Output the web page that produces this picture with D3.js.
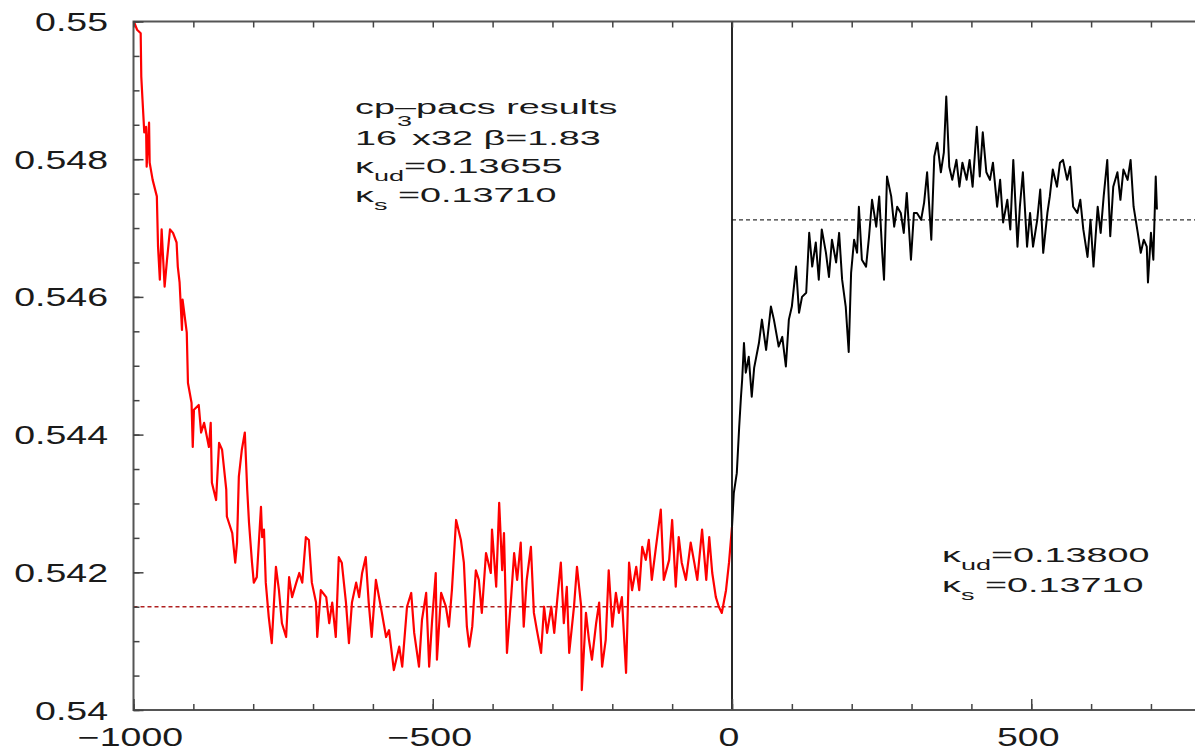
<!DOCTYPE html>
<head>
  <title>cp-pacs run history</title>
  <style>
    body {margin: 0; background: #fff;}
    svg text {font-family: "Liberation Sans", Arial, Helvetica, sans-serif; fill: #1a1a1a;}
    .axis path {display: none;}
    .axis line {stroke: #444; stroke-width: 1.5;}
  </style>
  <meta charset="utf-8">
</head>
<body>
  <svg width="1195" height="747"></svg>
  <script src="https://d3js.org/d3.v7.min.js"></script>
  <script>
    // trajectory (x) vs plaquette-like observable (y)
    var redRun = [
      [-1000,0.55000],[-999,0.54999],[-994,0.54988],[-988,0.54983],[-987,0.54920],[-985,0.54887],[-982,0.54839],[-979,0.54847],
      [-978,0.54789],[-974,0.54853],[-973,0.54795],[-968,0.54770],[-961,0.54746],[-959,0.54673],[-956,0.54625],[-953,0.54698],
      [-951,0.54664],[-948,0.54615],[-944,0.54654],[-939,0.54698],[-934,0.54693],[-928,0.54679],[-926,0.54644],[-923,0.54621],
      [-919,0.54552],[-918,0.54596],[-911,0.54548],[-909,0.54475],[-903,0.54446],[-901,0.54382],[-899,0.54436],[-891,0.54443],
      [-887,0.54403],[-882,0.54417],[-874,0.54382],[-871,0.54417],[-869,0.54330],[-862,0.54305],[-857,0.54388],[-852,0.54378],
      [-845,0.54320],[-844,0.54281],[-835,0.54257],[-830,0.54214],[-827,0.54243],[-824,0.54339],[-819,0.54378],[-814,0.54403],
      [-810,0.54320],[-807,0.54272],[-802,0.54214],[-799,0.54185],[-794,0.54193],[-787,0.54295],[-785,0.54251],[-782,0.54262],
      [-779,0.54185],[-774,0.54135],[-769,0.54097],[-762,0.54208],[-757,0.54174],[-752,0.54126],[-745,0.54106],[-740,0.54193],
      [-735,0.54164],[-728,0.54185],[-723,0.54199],[-718,0.54185],[-712,0.54251],[-707,0.54247],[-702,0.54185],[-695,0.54156],
      [-693,0.54106],[-687,0.54174],[-678,0.54164],[-673,0.54126],[-668,0.54156],[-662,0.54106],[-657,0.54222],[-652,0.54214],
      [-645,0.54156],[-640,0.54097],[-635,0.54156],[-628,0.54185],[-623,0.54164],[-618,0.54199],[-612,0.54222],[-607,0.54156],
      [-602,0.54106],[-595,0.54189],[-585,0.54141],[-578,0.54106],[-573,0.54116],[-565,0.54058],[-556,0.54092],[-551,0.54063],
      [-543,0.54150],[-536,0.54170],[-531,0.54112],[-523,0.54063],[-518,0.54131],[-511,0.54170],[-506,0.54063],[-501,0.54131],
      [-495,0.54199],[-493,0.54073],[-486,0.54170],[-478,0.54150],[-473,0.54121],[-468,0.54174],[-461,0.54276],[-453,0.54247],
      [-448,0.54214],[-443,0.54121],[-439,0.54092],[-434,0.54121],[-428,0.54203],[-423,0.54189],[-418,0.54141],[-411,0.54228],
      [-403,0.54199],[-401,0.54262],[-394,0.54179],[-389,0.54301],[-384,0.54203],[-381,0.54257],[-376,0.54083],[-369,0.54164],
      [-364,0.54228],[-359,0.54189],[-353,0.54243],[-348,0.54121],[-343,0.54189],[-336,0.54237],[-331,0.54141],[-326,0.54116],
      [-319,0.54083],[-314,0.54150],[-309,0.54112],[-302,0.54150],[-297,0.54112],[-292,0.54160],[-286,0.54214],[-281,0.54126],
      [-276,0.54179],[-272,0.54083],[-264,0.54150],[-259,0.54208],[-252,0.54150],[-251,0.54029],[-244,0.54141],[-239,0.54102],
      [-234,0.54073],[-227,0.54126],[-222,0.54156],[-217,0.54063],[-211,0.54102],[-206,0.54203],[-200,0.54121],[-194,0.54170],
      [-189,0.54141],[-184,0.54164],[-177,0.54054],[-172,0.54214],[-167,0.54174],[-160,0.54208],[-155,0.54174],[-150,0.54237],
      [-144,0.54218],[-139,0.54247],[-134,0.54189],[-127,0.54237],[-119,0.54291],[-114,0.54189],[-105,0.54218],[-100,0.54276],
      [-94,0.54179],[-89,0.54251],[-84,0.54214],[-77,0.54189],[-69,0.54243],[-63,0.54214],[-58,0.54189],[-50,0.54262],
      [-43,0.54189],[-38,0.54251],[-33,0.54199],[-27,0.54164],[-22,0.54150],[-17,0.54141],[-10,0.54174],[-5,0.54214],[0,0.54266]
    ];

    var blackRun = [
      [0,0.54266],[3,0.54315],[8,0.54344],[12,0.54411],[15,0.54455],[17,0.54480],[20,0.54533],[23,0.54490],[28,0.54513],
      [33,0.54455],[37,0.54497],[45,0.54533],[50,0.54567],[57,0.54523],[65,0.54586],[70,0.54567],[78,0.54528],[84,0.54542],
      [90,0.54499],[95,0.54567],[100,0.54586],[107,0.54644],[112,0.54577],[117,0.54600],[124,0.54606],[129,0.54693],
      [134,0.54644],[140,0.54679],[145,0.54625],[150,0.54698],[157,0.54664],[162,0.54629],[167,0.54683],[174,0.54650],
      [179,0.54693],[184,0.54625],[190,0.54586],[195,0.54520],[199,0.54635],[204,0.54683],[209,0.54664],[212,0.54731],
      [217,0.54654],[224,0.54644],[229,0.54688],[234,0.54741],[241,0.54702],[246,0.54746],[251,0.54664],[254,0.54625],
      [259,0.54775],[266,0.54746],[271,0.54702],[276,0.54731],[282,0.54722],[287,0.54693],[292,0.54751],[299,0.54654],
      [304,0.54722],[309,0.54722],[316,0.54712],[321,0.54737],[326,0.54781],[333,0.54683],[338,0.54804],[343,0.54824],
      [349,0.54781],[354,0.54810],[358,0.54891],[363,0.54789],[368,0.54770],[375,0.54799],[380,0.54760],[385,0.54795],
      [392,0.54770],[397,0.54799],[402,0.54760],[409,0.54847],[414,0.54775],[419,0.54839],[425,0.54781],[431,0.54770],
      [436,0.54795],[443,0.54731],[448,0.54770],[453,0.54708],[460,0.54741],[465,0.54698],[470,0.54799],[477,0.54673],
      [481,0.54731],[486,0.54781],[493,0.54673],[498,0.54722],[503,0.54673],[510,0.54712],[515,0.54756],[520,0.54664],
      [527,0.54722],[531,0.54746],[536,0.54785],[543,0.54760],[548,0.54795],[553,0.54799],[560,0.54770],[565,0.54789],
      [570,0.54731],[577,0.54722],[582,0.54741],[587,0.54698],[594,0.54658],[599,0.54712],[604,0.54644],[611,0.54731],
      [616,0.54693],[621,0.54746],[627,0.54799],[632,0.54688],[637,0.54760],[644,0.54781],[649,0.54741],[654,0.54785],
      [661,0.54770],[666,0.54799],[671,0.54731],[678,0.54693],[683,0.54664],[688,0.54683],[693,0.54673],[695,0.54621],
      [700,0.54693],[704,0.54654],[708,0.54775],[710,0.54727]
    ];

    var redMean = 0.5415,
        blackMean = 0.54712;

    var xMajor = [-1000, -500, 0, 500],
        xMinor = d3.range(-1000, 801, 100),
        yMajor = [0.54, 0.542, 0.544, 0.546, 0.548, 0.55],
        yMinor = d3.range(0, 21).map(function(i) { return 0.54 + i * 0.0005; });

    var svg = d3.select("svg");

    // the picture is horizontally stretched, so glyphs are too
    var pxPerUnit = 0.5985;
    var x = d3.scaleLinear().domain([-1000, 800]).range([133.5, 133.5 + 1800 * pxPerUnit]),
        y = d3.scaleLinear().domain([0.54, 0.55]).range([710, 21.5]);

    var line = d3.line()
        .x(function(d) { return x(d[0]); })
        .y(function(d) { return y(d[1]); });

    //mean lines
    svg.append("line")
        .attr("x1", x(-1000)).attr("x2", x(0))
        .attr("y1", y(redMean)).attr("y2", y(redMean))
        .attr("stroke", "#b02020").attr("stroke-width", 1.3)
        .attr("stroke-dasharray", "4,3");
    svg.append("line")
        .attr("x1", x(0)).attr("x2", x(800))
        .attr("y1", y(blackMean)).attr("y2", y(blackMean))
        .attr("stroke", "#333").attr("stroke-width", 1.3)
        .attr("stroke-dasharray", "4,3");

    //the two runs
    svg.append("path")
        .attr("d", line(redRun))
        .attr("fill", "none")
        .attr("stroke", "#f00")
        .attr("stroke-width", 2.2)
        .attr("stroke-linejoin", "round");
    svg.append("path")
        .attr("d", line(blackRun))
        .attr("fill", "none")
        .attr("stroke", "#000")
        .attr("stroke-width", 2)
        .attr("stroke-linejoin", "round");

    //vertical line at the start of the second run
    svg.append("line")
        .attr("x1", x(0)).attr("x2", x(0))
        .attr("y1", y(0.54)).attr("y2", y(0.55))
        .attr("stroke", "#111").attr("stroke-width", 1.8);

    //frame
    svg.append("rect")
        .attr("x", x(-1000)).attr("y", y(0.55))
        .attr("width", x(800) - x(-1000)).attr("height", y(0.54) - y(0.55))
        .attr("fill", "none").attr("stroke", "#555").attr("stroke-width", 2);

    //ticks, pointing inwards
    svg.append("g").attr("class", "axis")
        .attr("transform", "translate(0," + y(0.54) + ")")
        .call(d3.axisBottom(x).tickValues(xMinor).tickSize(-6).tickFormat(""));
    svg.append("g").attr("class", "axis")
        .attr("transform", "translate(0," + y(0.54) + ")")
        .call(d3.axisBottom(x).tickValues(xMajor).tickSize(-11).tickFormat(""));
    svg.append("g").attr("class", "axis")
        .attr("transform", "translate(0," + y(0.55) + ")")
        .call(d3.axisTop(x).tickValues(xMinor).tickSize(-6).tickFormat(""));
    svg.append("g").attr("class", "axis")
        .attr("transform", "translate(" + x(-1000) + ",0)")
        .call(d3.axisLeft(y).tickValues(yMinor).tickSize(-6).tickFormat(""));
    svg.append("g").attr("class", "axis")
        .attr("transform", "translate(" + x(-1000) + ",0)")
        .call(d3.axisLeft(y).tickValues(yMajor).tickSize(-10).tickFormat(""));

    //stretched text helper
    function label(px, py, sx, size, anchor) {
      return svg.append("g")
          .attr("transform", "translate(" + px + "," + py + ") scale(" + sx + ",1)")
        .append("text")
          .attr("font-size", size)
          .attr("text-anchor", anchor);
    }

    yMajor.forEach(function(v) {
      label(108, y(v) + 9.5, 1.5, 25, "end").text(d3.format(".3~f")(v));
    });
    xMajor.forEach(function(v) {
      label(x(v) - 3, 746, 1.5, 25, "middle").text(v < 0 ? "\u2212" + (-v) : v);
    });

    //annotations
    label(355, 114, 1.8, 21, "start").text("cp\u2013pacs results");

    var t2 = label(355, 145, 1.8, 21, "start");
    t2.append("tspan").text("16");
    t2.append("tspan").attr("font-size", 15).attr("dy", -19).text("3");
    t2.append("tspan").attr("dy", 19).text("x32 \u03b2=1.83");

    function kappa(px, py, sub, val) {
      var t = label(px, py, 1.8, 21, "start");
      t.append("tspan").text("\u03ba");
      t.append("tspan").attr("font-size", 15).attr("dy", 8).text(sub);
      t.append("tspan").attr("dy", -8).text(val);
    }
    kappa(355, 173, "ud", "=0.13655");
    kappa(355, 202, "s", " =0.13710");
    kappa(942, 562, "ud", "=0.13800");
    kappa(942, 592, "s", " =0.13710");
  </script>
</body>
